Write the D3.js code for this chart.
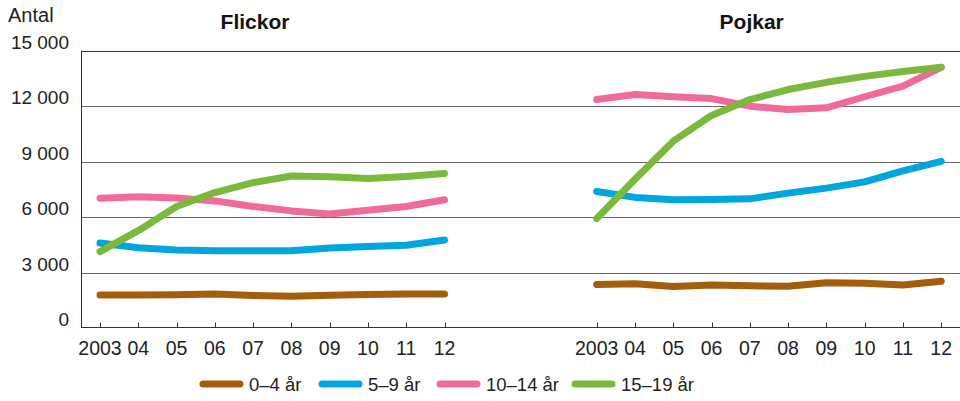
<!DOCTYPE html>
<html>
<head>
<meta charset="utf-8">
<script src="https://cdn.jsdelivr.net/npm/d3@7"></script>
<style>
  body { margin: 0; background: #fff; }
  svg { display: block; font-family: "Liberation Sans", Arial, sans-serif; }
</style>
</head>
<body>
<svg id="chart" width="960" height="401"></svg>
<script>
// Barn och unga 2003–2012, antal per åldersgrupp
const years = ["2003", "04", "05", "06", "07", "08", "09", "10", "11", "12"];
const groups = ["0–4 år", "5–9 år", "10–14 år", "15–19 år"];
const colors = ["#a35d0b", "#00a6dd", "#f06b9c", "#7ab93d"];
const yTicks = [0, 3000, 6000, 9000, 12000, 15000];

const flickor = [
  [1790, 1790, 1800, 1840, 1760, 1720, 1770, 1810, 1840, 1840],
  [4590, 4340, 4220, 4180, 4180, 4180, 4320, 4410, 4470, 4760],
  [7020, 7090, 7030, 6870, 6570, 6330, 6160, 6370, 6570, 6930],
  [4130, 5260, 6570, 7320, 7860, 8220, 8170, 8080, 8190, 8350]
];
const pojkar = [
  [2350, 2390, 2240, 2330, 2280, 2260, 2440, 2420, 2330, 2530],
  [7380, 7060, 6930, 6940, 6980, 7290, 7560, 7900, 8490, 9010],
  [12350, 12620, 12500, 12400, 11990, 11810, 11900, 12500, 13070, 14090],
  [5920, 8040, 10100, 11490, 12350, 12890, 13280, 13600, 13860, 14090]
];

const svg = d3.select("#chart");
const y = d3.scaleLinear([0, 15000], [328, 50.5]);
const fmt = v => v >= 1000 ? d3.format(",")(v).replace(",", " ") : String(v);

// grid
svg.append("g").selectAll("line").data(yTicks.filter(v => v > 0)).join("line")
  .attr("x1", 81).attr("x2", 960)
  .attr("y1", d => Math.round(y(d)) + 0.5).attr("y2", d => Math.round(y(d)) + 0.5)
  .attr("stroke", d => d === 15000 ? "#333" : "#666").attr("stroke-width", 1);
// axes
svg.append("line").attr("x1", 81).attr("x2", 960).attr("y1", 327.5).attr("y2", 327.5)
  .attr("stroke", "#333");
svg.append("line").attr("x1", 81.5).attr("x2", 81.5).attr("y1", 50.5).attr("y2", 328)
  .attr("stroke", "#333");

svg.append("g").selectAll("text").data(yTicks).join("text")
  .attr("x", 69).attr("y", d => y(d) - 2).attr("text-anchor", "end")
  .attr("font-size", 19).attr("fill", "#222").text(fmt);
svg.append("text").attr("x", 8).attr("y", 22).attr("font-size", 20)
  .attr("fill", "#222").text("Antal");

function panel(data, x0, title) {
  const x = d3.scalePoint(years, [x0, x0 + 344.5]);
  const g = svg.append("g");
  g.append("text").attr("x", x0 + 155).attr("y", 29).attr("text-anchor", "middle")
    .attr("font-size", 21).attr("font-weight", "bold").attr("fill", "#111").text(title);
  g.selectAll("line.tick").data(years).join("line").attr("class", "tick")
    .attr("x1", d => Math.round(x(d)) + 0.5).attr("x2", d => Math.round(x(d)) + 0.5)
    .attr("y1", 322.5).attr("y2", 327.5).attr("stroke", "#333");
  g.selectAll("text.xl").data(years).join("text").attr("class", "xl")
    .attr("x", d => x(d)).attr("y", 355).attr("text-anchor", "middle")
    .attr("font-size", 19.5).attr("fill", "#222").text(d => d);
  const line = d3.line().x((v, i) => x(years[i])).y(v => y(v));
  g.selectAll("path").data(data).join("path")
    .attr("d", line).attr("fill", "none")
    .attr("stroke", (d, i) => colors[i]).attr("stroke-width", 7)
    .attr("stroke-linecap", "round").attr("stroke-linejoin", "round");
}
panel(flickor, 100, "Flickor");
panel(pojkar, 596.7, "Pojkar");

// legend
const legX = [200, 319, 437, 572];
const leg = svg.append("g").selectAll("g").data(groups).join("g")
  .attr("transform", (d, i) => `translate(${legX[i]},384)`);
leg.append("line").attr("x1", 3).attr("x2", 40).attr("stroke", (d, i) => colors[i])
  .attr("stroke-width", 7).attr("stroke-linecap", "round");
leg.append("text").attr("x", 49).attr("y", 6.5).attr("font-size", 18.5)
  .attr("fill", "#222").text(d => d);
</script>
</body>
</html>
